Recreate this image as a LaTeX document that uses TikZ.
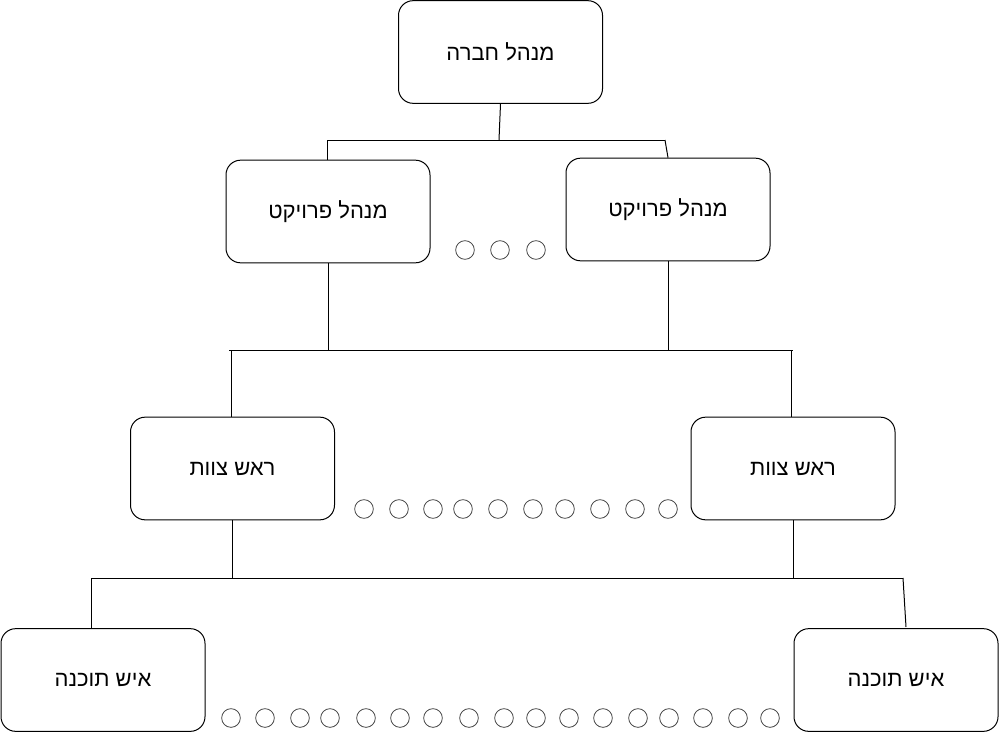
\documentclass[tikz,border=0pt]{standalone}
\usepackage{fontspec}
\TeXXeTstate=1
\newfontfamily\hebfont[Script=Hebrew]{Liberation Sans}
\begin{document}
\begin{tikzpicture}[x=0.75pt,y=-0.75pt,
  box/.style={draw,rounded corners=11pt,line width=0.75pt,minimum width=153pt,minimum height=77pt,font=\hebfont\fontsize{16.5}{19}\selectfont,inner sep=0pt},
  dot/.style={draw=black!75,circle,line width=0.6pt,minimum size=14pt,inner sep=0pt},
  conn/.style={line width=0.75pt}]
\useasboundingbox (0,0) rectangle (999,732);
\node[box] (top) at (500.5,52) {\beginR מנהל חברה\endR};
\node[box] (pml) at (328,211.5) {\beginR מנהל פרויקט\endR};
\node[box] (pmr) at (668,209.5) {\beginR מנהל פרויקט\endR};
\node[box] (tll) at (232.5,468.5) {\beginR ראש צוות\endR};
\node[box] (tlr) at (793,468.5) {\beginR ראש צוות\endR};
\node[box] (engl) at (103,680) {\beginR איש תוכנה\endR};
\node[box] (engr) at (896,680) {\beginR איש תוכנה\endR};
% level 1 connectors
\coordinate (j1) at (499,140);
\coordinate (j1l) at (327,140);
\coordinate (j1r) at (665,140);
\draw[conn] (top.south) -- (j1);
\draw[conn] (j1l) -- (j1r);
\draw[conn] (j1l) -- (j1l |- pml.north);
\draw[conn] (j1r) -- (pmr.north);
% level 2 connectors
\coordinate (h2l) at (229,350);
\coordinate (h2r) at (793,350);
\draw[conn] (h2l) -- (h2r);
\draw[conn] (pml.south) -- (pml.south |- h2l);
\draw[conn] (pmr.south) -- (pmr.south |- h2l);
\draw[conn] (231,350) coordinate (d2l) -- (d2l |- tll.north);
\draw[conn] (791,350) coordinate (d2r) -- (d2r |- tlr.north);
% level 3 connectors
\coordinate (h3l) at (91,578);
\coordinate (h3r) at (903,578);
\coordinate (e3r) at (906,627);
\draw[conn] (h3l) -- (h3r);
\draw[conn] (tll.south) -- (tll.south |- h3l);
\draw[conn] (tlr.south) -- (tlr.south |- h3l);
\draw[conn] (h3l) -- (h3l |- engl.north);
\draw[conn] (h3r) -- (e3r);
% dots
\foreach \x [count=\i] in {465,500,536} \node[dot] (a\i) at (\x,250) {};
\foreach \x [count=\i] in {364,399,433,463,498,533,565,600,635,668} \node[dot] (b\i) at (\x,509) {};
\foreach \x [count=\i] in {231,265,300,330,366,400,433,469,504,536,569,603,638,669,703,738,770} \node[dot] (c\i) at (\x,718) {};
\end{tikzpicture}
\end{document}
